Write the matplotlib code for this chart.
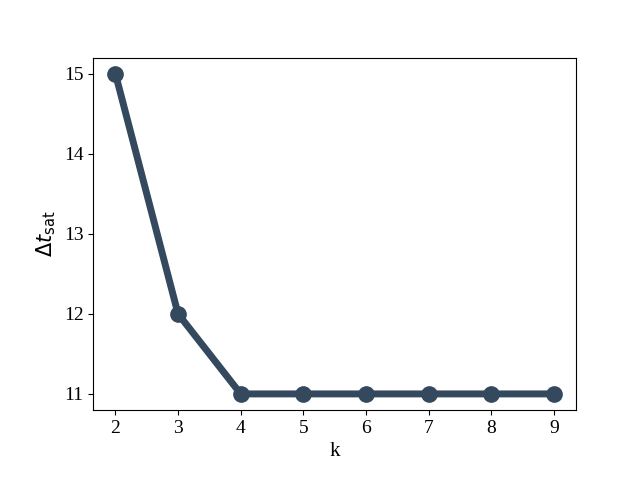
import matplotlib
matplotlib.use('Agg')
from matplotlib import pyplot as plt

plt.rcParams['font.family'] = ['Liberation Serif', 'DejaVu Serif']

k = [2, 3, 4, 5, 6, 7, 8, 9]
dt_sat = [15, 12, 11, 11, 11, 11, 11, 11]

fig, ax = plt.subplots(figsize=(6.4, 4.8), dpi=100)
fig.subplots_adjust(left=0.146, right=0.9, top=0.88, bottom=0.146)
ax.plot(k, dt_sat, color='#34495e', linewidth=5, marker='o', markersize=11)
ax.set_xlabel('k', fontsize=15)
ax.set_ylabel(r'$\Delta t_{\mathrm{sat}}$', fontsize=15)
ax.set_xticks(k)
ax.set_yticks([11, 12, 13, 14, 15])
ax.tick_params(labelsize=14)
fig.savefig('out.png')
